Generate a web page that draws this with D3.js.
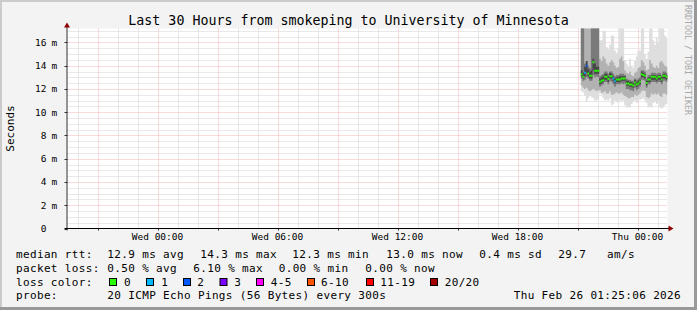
<!DOCTYPE html>
<html>
<head>
<meta charset="utf-8">
<script src="https://cdn.jsdelivr.net/npm/d3@7/dist/d3.min.js"></script>
<style>
body { margin: 0; background: #f3f3f3; }
svg { display: block; }
text { font-family: "DejaVu Sans Mono", monospace; fill: #000; }
</style>
</head>
<body>
<svg width="697" height="310"></svg>
<script>
// time window of the graph and the 5 minute steps that carry data
const graphStart = new Date(2026, 1, 24, 19, 30);
const graphEnd = new Date(2026, 1, 26, 1, 30);
const firstStep = new Date(2026, 1, 25, 21, 10);
const stepMinutes = 5;

// median rtt per step (ms)
const medianRtt = [13.27, 13.04, 13.4, 14.0, 13.33, 13.13, 13.13, 14.3, 13.56, 13.56,
  13.56, 12.61, 12.7, 12.76, 13.04, 13.04, 12.85, 13.1, 13.1, 12.9,
  12.67, 12.82, 12.82, 12.82, 12.9, 12.9, 12.9, 12.47, 12.47, 12.38,
  12.38, 12.3, 12.56, 12.38, 12.47, 12.61, 13.27, 13.2, 13.13, 12.52,
  12.82, 12.82, 13.04, 13.04, 13.04, 12.9, 13.04, 13.04, 12.82, 13.13,
  13.13, 13.04];

// lost pings out of 20 per step
const lossCount = [0, 0, 1, 2, 0, 0, 0, 0, 0, 0,
  0, 0, 0, 0, 0, 0, 0, 0, 0, 1,
  1, 0, 0, 0, 0, 0, 0, 0, 0, 0,
  0, 0, 0, 0, 0, 0, 0, 0, 0, 0,
  0, 0, 0, 0, 0, 0, 0, 0, 0, 0,
  0, 0];

// smoke: spread of the 20 pings per step (ms), outer to inner
const pingMax = [17.5, 17.5, 17.5, 17.5, 17.5, 17.5, 17.5, 17.5, 17.5, 17.5,
  17.5, 16.2, 16.2, 17.0, 17.0, 15.6, 15.4, 15.8, 16.6, 16.6,
  15.3, 15.1, 15.5, 17.5, 17.5, 17.5, 14.5, 14.2, 13.9, 14.6,
  14.0, 13.8, 14.4, 14.8, 15.3, 15.3, 17.5, 17.5, 15.0, 14.6,
  15.2, 17.5, 17.5, 16.2, 15.8, 16.4, 16.0, 17.5, 17.5, 17.5,
  16.6, 16.4];
const pingHigh = [17.5, 17.5, 17.5, 17.5, 17.5, 17.5, 17.5, 17.5, 17.5, 17.5,
  17.5, 14.6, 14.4, 14.8, 14.6, 14.2, 14.0, 14.3, 14.5, 14.3,
  14.0, 13.8, 13.9, 14.6, 14.8, 14.4, 13.6, 13.4, 13.3, 13.5,
  13.2, 13.1, 13.4, 13.5, 13.8, 13.9, 14.5, 14.3, 14.0, 13.6,
  13.7, 14.5, 14.2, 13.9, 13.8, 14.0, 13.8, 14.3, 14.4, 14.2,
  14.0, 13.9];
const pingUpper = [17.5, 17.5, 14.2, 14.4, 14.0, 13.8, 17.5, 17.5, 17.5, 17.5,
  17.5, 13.1, 13.2, 13.3, 13.5, 13.5, 13.3, 13.5, 13.5, 13.3,
  13.1, 13.2, 13.2, 13.3, 13.3, 13.3, 13.2, 12.9, 12.8, 12.8,
  12.7, 12.7, 12.9, 12.8, 12.9, 13.0, 13.6, 13.6, 13.5, 12.9,
  13.2, 13.2, 13.4, 13.4, 13.4, 13.3, 13.4, 13.4, 13.2, 13.5,
  13.5, 13.4];
const pingCoreHi = [13.6, 13.4, 13.9, 14.4, 13.7, 13.5, 13.6, 14.6, 14.2, 13.9,
  13.9, 12.9, 13.0, 13.1, 13.3, 13.3, 13.1, 13.4, 13.3, 13.1,
  12.9, 13.0, 13.0, 13.1, 13.1, 13.1, 13.1, 12.7, 12.7, 12.6,
  12.6, 12.5, 12.8, 12.6, 12.7, 12.8, 13.5, 13.4, 13.3, 12.7,
  13.0, 13.0, 13.2, 13.2, 13.2, 13.1, 13.2, 13.2, 13.0, 13.3,
  13.3, 13.2];
const pingCoreLo = [13.1, 12.9, 13.1, 13.4, 13.1, 12.9, 12.9, 13.6, 13.3, 13.3,
  13.3, 12.4, 12.5, 12.6, 12.8, 12.8, 12.6, 12.9, 12.9, 12.7,
  12.5, 12.6, 12.6, 12.6, 12.7, 12.7, 12.7, 12.3, 12.3, 12.2,
  12.2, 12.1, 12.4, 12.2, 12.3, 12.4, 13.0, 13.0, 12.9, 12.3,
  12.6, 12.6, 12.8, 12.8, 12.8, 12.7, 12.8, 12.8, 12.6, 12.9,
  12.9, 12.8];
const pingLower = [12.9, 12.7, 12.8, 13.0, 12.9, 12.7, 12.7, 13.2, 13.0, 13.1,
  13.0, 12.2, 12.3, 12.4, 12.6, 12.6, 12.4, 12.7, 12.6, 12.4,
  12.2, 12.4, 12.4, 12.4, 12.5, 12.4, 12.5, 12.0, 12.0, 11.9,
  11.9, 11.8, 12.1, 11.9, 12.0, 12.2, 12.8, 12.8, 12.7, 12.1,
  12.4, 12.4, 12.6, 12.6, 12.6, 12.5, 12.6, 12.6, 12.4, 12.7,
  12.7, 12.6];
const pingLow = [12.3, 12.1, 12.0, 12.1, 11.9, 11.8, 11.9, 12.0, 11.9, 11.8,
  11.9, 11.9, 11.7, 11.7, 11.8, 11.6, 11.6, 11.8, 11.5, 11.5,
  11.6, 11.7, 11.6, 11.6, 11.7, 11.5, 11.4, 11.3, 11.2, 11.2,
  11.3, 11.3, 11.5, 11.4, 11.5, 11.6, 11.8, 11.9, 11.8, 11.3,
  11.2, 11.3, 11.6, 11.5, 11.6, 11.5, 11.6, 11.4, 11.3, 11.6,
  11.6, 11.5];
const pingMin = [11.8, 11.7, 11.4, 10.9, 11.2, 11.4, 11.3, 11.2, 11.0, 11.0,
  11.1, 11.6, 11.5, 11.2, 11.0, 11.1, 11.0, 11.2, 10.6, 10.7,
  11.0, 10.9, 10.8, 11.0, 10.9, 11.0, 10.6, 10.4, 10.5, 10.4,
  10.7, 10.9, 11.0, 10.8, 11.0, 11.1, 11.1, 11.2, 11.0, 10.8,
  10.4, 10.5, 10.4, 10.8, 10.9, 10.7, 10.8, 10.4, 10.3, 10.4,
  10.6, 10.7];

// axes
const yTicks = [0, 2, 4, 6, 8, 10, 12, 14, 16];
const xTickTimes = [new Date(2026, 1, 25, 0), new Date(2026, 1, 25, 6), new Date(2026, 1, 25, 12),
  new Date(2026, 1, 25, 18), new Date(2026, 1, 26, 0)];
const xTickLabels = ["Wed 00:00", "Wed 06:00", "Wed 12:00", "Wed 18:00", "Thu 00:00"];

// legend
const titleText = "Last 30 Hours from smokeping to University of Minnesota";
const rttLegend = ["12.9 ms avg", "14.3 ms max", "12.3 ms min", "13.0 ms now", "0.4 ms sd", "29.7", "am/s"];
const lossLegend = ["0.50 % avg", "6.10 % max", "0.00 % min", "0.00 % now"];
const lossLabels = ["0", "1", "2", "3", "4-5", "6-10", "11-19", "20/20"];
const lossColors = ["#26ff00", "#00b8ff", "#0059ff", "#7e00ff", "#ff00ff", "#ff5500", "#ff0000", "#a10000"];
const probeText = "20 ICMP Echo Pings (56 Bytes) every 300s";
const stampText = "Thu Feb 26 01:25:06 2026";

const svg = d3.select("svg");
const W = 697, H = 310;
const plotL = 67.5, plotR = 667.5, plotT = 28.5, plotB = 228.5;

const x = d3.scaleTime().domain([graphStart, graphEnd]).range([plotL, plotR]);
const y = d3.scaleLinear().domain([0, 17.2]).range([plotB, plotT]);

// frame
svg.append("rect").attr("width", W).attr("height", H).attr("fill", "#f3f3f3");
svg.append("rect").attr("x", 0).attr("y", 0).attr("width", W).attr("height", 2).attr("fill", "#cbcbcb");
svg.append("rect").attr("x", 0).attr("y", 0).attr("width", 2).attr("height", H).attr("fill", "#cbcbcb");
svg.append("rect").attr("x", 0).attr("y", H - 3).attr("width", W).attr("height", 3).attr("fill", "#999999");
svg.append("rect").attr("x", W - 3).attr("y", 0).attr("width", 3).attr("height", H).attr("fill", "#999999");

svg.append("rect").attr("x", plotL).attr("y", plotT).attr("width", plotR - plotL).attr("height", plotB - plotT)
  .attr("fill", "#ffffff");

svg.append("defs").append("clipPath").attr("id", "plot")
  .append("rect").attr("x", plotL).attr("y", plotT).attr("width", plotR - plotL).attr("height", plotB - plotT);

// grid: minor grey dotted, major pink dotted
const minorY = d3.range(0.5, 17.2, 0.5).filter(v => v % 2 !== 0);
const hours = d3.timeHour.range(d3.timeHour.ceil(graphStart), graphEnd);

svg.append("g").selectAll("line").data(minorY).join("line")
  .attr("x1", plotL).attr("x2", plotR)
  .attr("y1", d => Math.round(y(d)) + 0.5).attr("y2", d => Math.round(y(d)) + 0.5)
  .attr("stroke", "#d2d2d2").attr("stroke-dasharray", "1,1");

svg.append("g").selectAll("line").data(hours.filter(h => h.getHours() % 3 !== 0)).join("line")
  .attr("x1", d => Math.round(x(d)) + 0.5).attr("x2", d => Math.round(x(d)) + 0.5)
  .attr("y1", plotT).attr("y2", plotB)
  .attr("stroke", "#d2d2d2").attr("stroke-dasharray", "1,1");

svg.append("g").selectAll("line").data(yTicks.filter(v => v > 0)).join("line")
  .attr("x1", plotL).attr("x2", plotR)
  .attr("y1", d => Math.round(y(d)) + 0.5).attr("y2", d => Math.round(y(d)) + 0.5)
  .attr("stroke", "#f4b4b4").attr("stroke-dasharray", "1,1");

svg.append("g").selectAll("line").data(hours.filter(h => h.getHours() % 3 === 0)).join("line")
  .attr("x1", d => Math.round(x(d)) + 0.5).attr("x2", d => Math.round(x(d)) + 0.5)
  .attr("y1", plotT).attr("y2", plotB)
  .attr("stroke", "#f4b4b4").attr("stroke-dasharray", "1,1");

// smoke
const steps = medianRtt.map((m, i) => ({ i: i, t: new Date(+firstStep + i * stepMinutes * 60000) }));
const lastStep = steps[steps.length - 1];
const stepPts = steps.concat([{ i: lastStep.i, t: new Date(+lastStep.t + stepMinutes * 60000) }]);

const bands = [
  [pingMin, pingMax, "#dedede"],
  [pingLow, pingHigh, "#b2b2b2"],
  [pingLower, pingUpper, "#7a7a7a"],
  [pingCoreLo, pingCoreHi, "#464646"]
];
const smoke = svg.append("g").attr("clip-path", "url(#plot)");
bands.forEach(b => {
  const area = d3.area()
    .x(d => x(d.t))
    .y0(d => y(b[0][d.i]))
    .y1(d => y(b[1][d.i]))
    .curve(d3.curveStepAfter);
  smoke.append("path").datum(stepPts).attr("d", area).attr("fill", b[2]);
});

function lossIndex(n) {
  if (n <= 3) return n;
  if (n <= 5) return 4;
  if (n <= 10) return 5;
  if (n <= 19) return 6;
  return 7;
}

smoke.append("g").selectAll("line").data(steps).join("line")
  .attr("x1", d => x(d.t))
  .attr("x2", d => x(new Date(+d.t + stepMinutes * 60000)))
  .attr("y1", d => y(medianRtt[d.i])).attr("y2", d => y(medianRtt[d.i]))
  .attr("stroke", d => lossColors[lossIndex(lossCount[d.i])])
  .attr("stroke-width", 2);

// axes
svg.append("line").attr("x1", plotL - 0.5).attr("x2", plotL - 0.5).attr("y1", plotT - 4).attr("y2", plotB + 2)
  .attr("stroke", "#333");
svg.append("line").attr("x1", plotL - 3).attr("x2", plotR + 2).attr("y1", plotB).attr("y2", plotB)
  .attr("stroke", "#000");
svg.append("path").attr("d", `M${plotL - 3.5},${plotT - 1} L${plotL - 0.5},${plotT - 6} L${plotL + 2.5},${plotT - 1} Z`)
  .attr("fill", "#8b0000");
svg.append("path").attr("d", `M${plotR + 1},${plotB - 3} L${plotR + 6},${plotB} L${plotR + 1},${plotB + 3} Z`)
  .attr("fill", "#8b0000");

svg.append("g").selectAll("line").data(yTicks).join("line")
  .attr("x1", plotL - 3).attr("x2", plotL)
  .attr("y1", d => Math.round(y(d)) + 0.5).attr("y2", d => Math.round(y(d)) + 0.5)
  .attr("stroke", "#333");
svg.append("g").selectAll("line").data(hours.filter(h => h.getHours() % 3 === 0)).join("line")
  .attr("x1", d => Math.round(x(d)) + 0.5).attr("x2", d => Math.round(x(d)) + 0.5)
  .attr("y1", plotB).attr("y2", plotB + 2)
  .attr("stroke", "#333");

const yLab = svg.append("g").style("font-size", "9.5px");
yLab.selectAll("text.num").data(yTicks).join("text").attr("class", "num")
  .attr("x", 46.5).attr("y", d => y(d) + 3.4)
  .attr("text-anchor", "end")
  .text(d => d);
yLab.selectAll("text.unit").data(yTicks.filter(v => v > 0)).join("text").attr("class", "unit")
  .attr("x", 51.5).attr("y", d => y(d) + 3.4)
  .text("m");

svg.append("g").selectAll("text").data(xTickTimes).join("text")
  .attr("x", d => x(d)).attr("y", 239.5)
  .attr("text-anchor", "middle")
  .style("font-size", "9.5px")
  .text((d, i) => xTickLabels[i]);

svg.append("text").attr("transform", "translate(13.5,128.5) rotate(-90)")
  .attr("text-anchor", "middle").style("font-size", "11px")
  .text("Seconds");

svg.append("text").attr("x", W / 2).attr("y", 24.5).attr("text-anchor", "middle")
  .style("font-size", "13.3px").text(titleText);

svg.append("text").attr("transform", "translate(685,5) rotate(90)")
  .style("font-size", "8.3px").style("fill", "#a8a8a8")
  .text("RRDTOOL / TOBI OETIKER");

// legend
const legend = svg.append("g").style("font-size", "11px").style("letter-spacing", "0.35px");
const rows = [258, 271.8, 285.5, 299.3];

function put(txt, px, py) {
  legend.append("text").attr("x", px).attr("y", py).attr("xml:space", "preserve").text(txt);
}

put("median rtt:", 16, rows[0]);
[107.3, 200.3, 292.3, 386.3, 479.3, 558.3, 607].forEach((px, i) => put(rttLegend[i], px, rows[0]));

put("packet loss:", 16, rows[1]);
[107.3, 193.3, 278.7, 365.3].forEach((px, i) => put(lossLegend[i], px, rows[1]));

put("loss color:", 16, rows[2]);
const swatchX = [109, 146, 183, 219.5, 256, 307, 366, 430];
const labelX = [124, 161.3, 197.3, 234.3, 270.7, 321, 380.3, 444.7];
lossLabels.forEach((lab, i) => {
  legend.append("rect").attr("x", swatchX[i] + 0.5).attr("y", 278.5).attr("width", 7).attr("height", 7)
    .attr("fill", lossColors[i]).attr("stroke", "#000");
  put(lab, labelX[i], rows[2]);
});

put("probe:", 16, rows[3]);
put(probeText, 107.3, rows[3]);
put(stampText, 513.7, rows[3]);
</script>
</body>
</html>
